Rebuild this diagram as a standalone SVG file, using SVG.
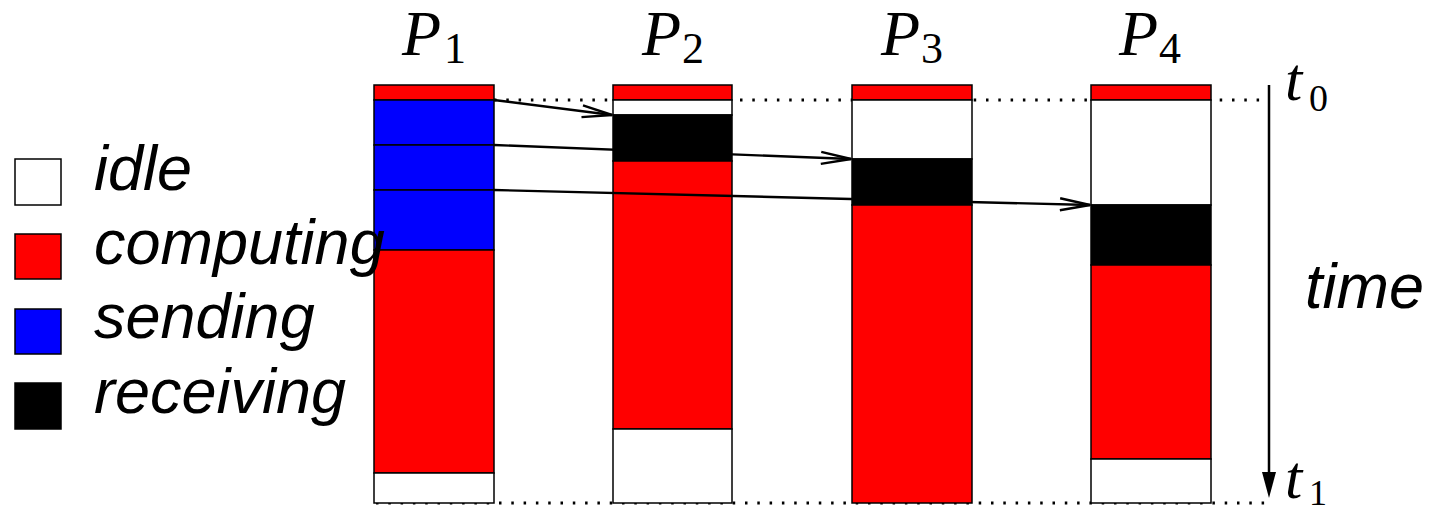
<svg xmlns="http://www.w3.org/2000/svg" width="1433" height="513" viewBox="0 0 1433 513">
<style>
.r{fill:#ff0000;stroke:#000;stroke-width:1.5}
.w{fill:#fff;stroke:#000;stroke-width:1.5}
.b{fill:#0000ff;stroke:#000;stroke-width:1.5}
.k{fill:#000;stroke:#000;stroke-width:1.5}
.lg{font-family:"Liberation Sans",Arial,sans-serif;font-style:italic;font-size:63px;fill:#000}
.m{font-family:"Liberation Serif","Times New Roman",serif;font-style:italic;fill:#000}
.s{font-family:"Liberation Serif","Times New Roman",serif;fill:#000}
.dot{stroke:#000;stroke-width:3;stroke-dasharray:2.5 9.8;fill:none}
.msg{stroke:#000;stroke-width:2.4;fill:none}
</style>
<defs>
<marker id="open" markerUnits="userSpaceOnUse" markerWidth="40" markerHeight="20" refX="0" refY="0" viewBox="-32 -10 40 20" orient="auto" overflow="visible">
<path d="M-30,-6 L0,0 L-30,6" fill="none" stroke="#000" stroke-width="2.4"/>
</marker>
</defs>
<rect width="1433" height="513" fill="#fff"/>

<g id="guides">
<line class="dot" x1="494" y1="100" x2="1268" y2="100"/>
<line class="dot" x1="376" y1="503" x2="1268" y2="503"/>
</g>

<g id="P1">
<rect class="r" x="374" y="85" width="120" height="15"/>
<rect class="b" x="374" y="100" width="120" height="45"/>
<rect class="b" x="374" y="145" width="120" height="45"/>
<rect class="b" x="374" y="190" width="120" height="60"/>
<rect class="r" x="374" y="250" width="120" height="223"/>
<rect class="w" x="374" y="473" width="120" height="30"/>
<text class="m" x="402" y="55" font-size="64">P</text><text class="s" x="444" y="63" font-size="44">1</text>
</g>

<g id="P2">
<rect class="r" x="613" y="85" width="119" height="15"/>
<rect class="w" x="613" y="100" width="119" height="15"/>
<rect class="k" x="613" y="115" width="119" height="46"/>
<rect class="r" x="613" y="161" width="119" height="268"/>
<rect class="w" x="613" y="429" width="119" height="74"/>
<text class="m" x="642" y="55" font-size="64">P</text><text class="s" x="682" y="63" font-size="44">2</text>
</g>

<g id="P3">
<rect class="r" x="852" y="85" width="120" height="15"/>
<rect class="w" x="852" y="100" width="120" height="59"/>
<rect class="k" x="852" y="159" width="120" height="46"/>
<rect class="r" x="852" y="205" width="120" height="298"/>
<text class="m" x="881" y="55" font-size="64">P</text><text class="s" x="921" y="63" font-size="44">3</text>
</g>

<g id="P4">
<rect class="r" x="1091" y="85" width="120" height="15"/>
<rect class="w" x="1091" y="100" width="120" height="105"/>
<rect class="k" x="1091" y="205" width="120" height="60"/>
<rect class="r" x="1091" y="265" width="120" height="194"/>
<rect class="w" x="1091" y="459" width="120" height="44"/>
<text class="m" x="1119" y="55" font-size="64">P</text><text class="s" x="1159" y="63" font-size="44">4</text>
</g>

<g id="legend">
<rect class="w" x="15" y="159" width="46" height="46"/>
<text class="lg" x="94" y="190">idle</text>
<rect class="r" x="15" y="234" width="46" height="45"/>
<text class="lg" x="94" y="264">computing</text>
<rect class="b" x="15" y="309" width="46" height="45"/>
<text class="lg" x="94" y="338">sending</text>
<rect class="k" x="15" y="383" width="46" height="46"/>
<text class="lg" x="94" y="413">receiving</text>
</g>

<g id="connectors">
<line class="msg" x1="494" y1="100" x2="612" y2="115" marker-end="url(#open)"/>
<line class="msg" x1="494" y1="145" x2="851" y2="159" marker-end="url(#open)"/>
<line class="msg" x1="494" y1="190" x2="1090" y2="205" marker-end="url(#open)"/>
</g>

<g id="timeaxis">
<line x1="1269" y1="85" x2="1269" y2="475" stroke="#000" stroke-width="2.5"/>
<polygon points="1262,472 1276,472 1269,498" fill="#000"/>
<text class="m" x="1285" y="100" font-size="62">t</text><text class="s" x="1309" y="111" font-size="38">0</text>
<text class="m" x="1285" y="498" font-size="62">t</text><text class="s" x="1309" y="505" font-size="36">1</text>
<text class="lg" x="1305" y="308" font-size="60">time</text>
</g>
</svg>
